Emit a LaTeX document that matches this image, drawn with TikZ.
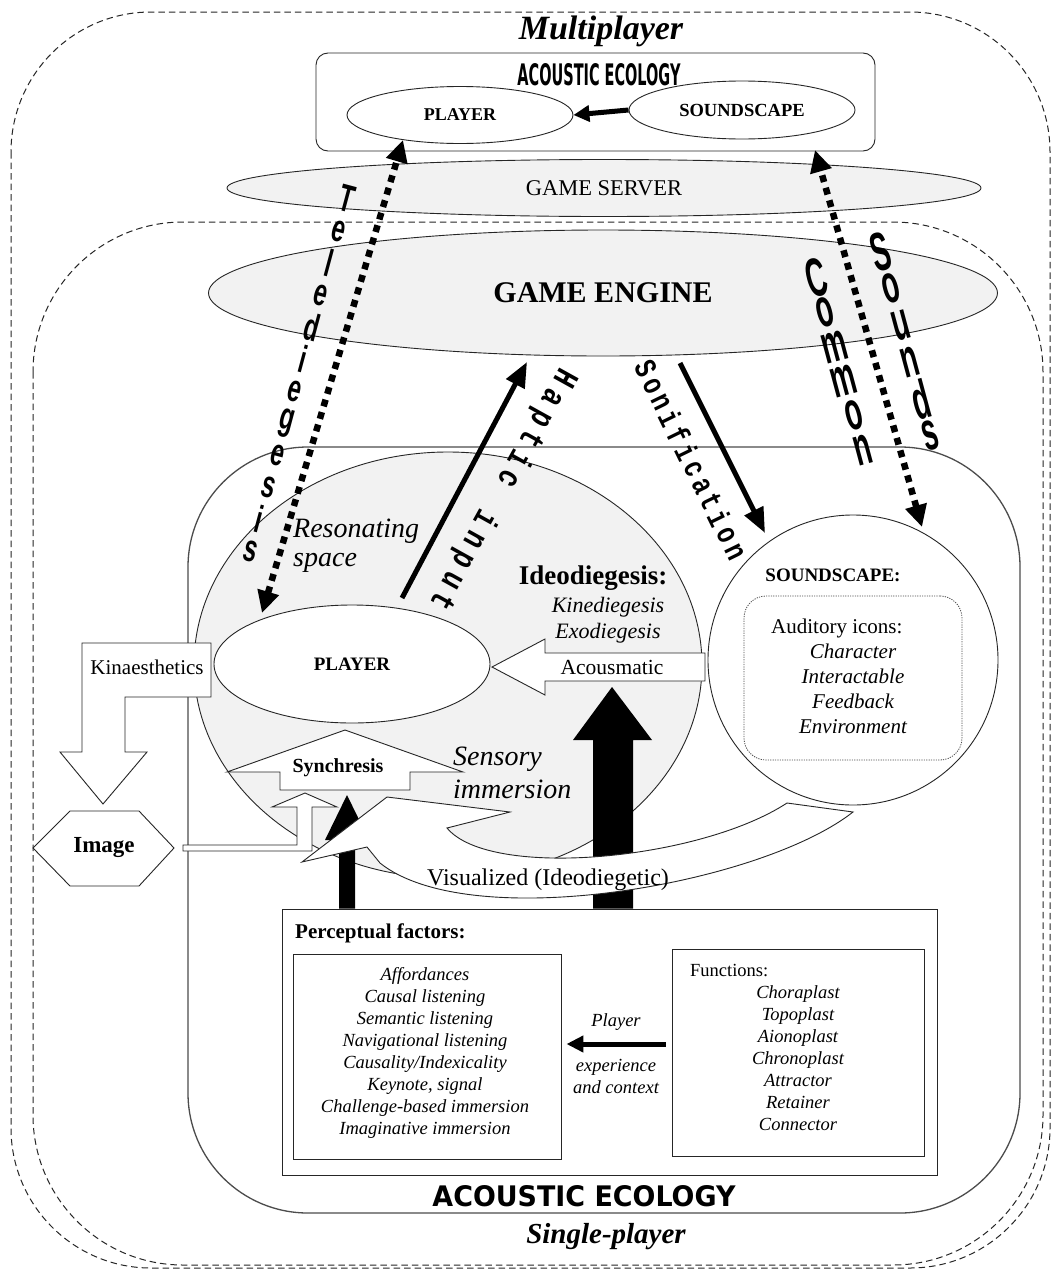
\documentclass[tikz,border=0pt]{standalone}
\usepackage{fontspec}
\usepackage{graphicx}
\setmainfont{Liberation Serif}
\newfontfamily\artfont{Liberation Sans}
\newfontfamily\typefont{Liberation Mono}
\newfontfamily\heavyfont{DejaVu Sans}
\usetikzlibrary{shapes.geometric,arrows.meta,calc}
\newcommand\fsz[2]{\fontsize{#1}{#2}\selectfont}
% letters placed one by one along a line: start, end, intervals, rotation, font, vertical stretch, letters
\newcommand\wordletters[7]{%
  \foreach \ch [count=\k from 0] in {#7}{%
    \node[inner sep=0pt, rotate=#4, font=#5, name=#1l\k] at ($(#1)!{\k/#3}!(#2)$) {\scalebox{1}[#6]{\ch}};}}
\newcommand\typeletters[7]{%
  \foreach \ch [count=\k from 0] in {#7}{%
    \node[inner sep=0pt, rotate=#4, font=#5, name=#1l\k] at ($(#1)!{\k/#3}!(#2)$) {\scalebox{1}[#6]{\vphantom{Hp}\ch}};}}
\begin{document}
\begin{tikzpicture}[x=1pt,y=-1pt,
  frame/.style={draw=black!85, line width=1pt, dash pattern=on 6.5pt off 4pt},
  shell/.style={draw=black!70, line width=1.3pt},
  outline/.style={draw=black!85, line width=0.9pt},
  haze/.style={fill=black!5},
  oval/.style={ellipse, outline, inner sep=0pt},
  blockarrow/.style={outline, fill=white, line join=miter},
  dotlink/.style={line width=6.5pt, dash pattern=on 7pt off 6pt, {Triangle[length=22pt,width=21pt]}-{Triangle[length=22pt,width=21pt]}},
  boldarrow/.style={line width=5pt, -{Triangle[length=25pt,width=20pt]}},
  smallarrow/.style={line width=5pt, -{Triangle[length=16pt,width=16pt]}},
  label/.style={inner sep=0pt},
]
\useasboundingbox (0,0) rectangle (1054,1269);
\fill[white] (0,0) rectangle (1054,1269);

% ---------- nested scopes ----------
\draw[frame, rounded corners=140] (11,12) rectangle (1050,1268);
\draw[frame, rounded corners=150] (33,222) rectangle (1043,1265);
\node[label, font=\bfseries\itshape\fsz{34}{34}] (multi) at (601,31) {Multiplayer};
\node[label, font=\bfseries\itshape\fsz{29}{29}] (single) at (606,1237) {Single-player};

% ---------- multiplayer acoustic ecology ----------
\node[outline, rounded corners=12, minimum width=559, minimum height=98] (mbox) at (595.5,102) {};
\node[label] (mtitle) at (599,75) {\resizebox{163pt}{22pt}{\heavyfont\bfseries ACOUSTIC ECOLOGY}};
\node[oval, minimum width=226, minimum height=57, font=\bfseries\fsz{18}{18}] (mplayer) at (460,115) {PLAYER};
\node[oval, minimum width=226, minimum height=58, font=\bfseries\fsz{18.5}{18}] (msound) at (742,110) {SOUNDSCAPE};
\draw[smallarrow] (msound.west) -- (mplayer.east);

% ---------- server and engine ----------
\node[oval, haze, minimum width=754, minimum height=57, font=\fsz{22.5}{22}] (server) at (604,188) {GAME SERVER};
\node[oval, haze, minimum width=789, minimum height=126, font=\bfseries\fsz{30}{30}] (engine) at (603,293) {GAME ENGINE};

% ---------- single-player acoustic ecology ----------
\node[shell, rounded corners=120, minimum width=832, minimum height=766] (ecology) at (604,830) {};
\node[label] (stitle) at (584,1196) {\resizebox{303pt}{21pt}{\heavyfont\bfseries ACOUSTIC ECOLOGY}};

% resonating space
\node[oval, haze, minimum width=508, minimum height=426] (resonance) at (448,665) {};

% soundscape
\node[circle, outline, fill=white, minimum size=290] (sound) at (853,660) {};
\node[draw=black!70, line width=0.8pt, dash pattern=on 1.2pt off 1.2pt, rounded corners=22, minimum width=218, minimum height=164] (icons) at (853,678) {};
\node[label, font=\bfseries\fsz{19}{19}] (soundlbl) at (833,575) {SOUNDSCAPE:};
\node[label, anchor=west, font=\fsz{21}{25}] (auditory) at (771,628) {Auditory icons:};
\node[label, align=center, font=\itshape\fsz{21}{25}] (iconlist) at (853,689) {Character\\Interactable\\Feedback\\Environment};

% player
\node[oval, fill=white, minimum width=276, minimum height=118, font=\bfseries\fsz{19}{19}] (player) at (352,664) {PLAYER};

% acousmatic arrow
\draw[blockarrow] (705,653) -- (705,681) -- (545,681) -- (545,695) -- (492,667) -- (545,639) -- (545,653) -- cycle;
\node[label, font=\fsz{21.5}{21.5}] (acous) at (612,667) {Acousmatic};

% ideodiegesis
\node[label, font=\bfseries\fsz{27}{27}] (ideo) at (593,578) {Ideodiegesis:};
\node[label, font=\itshape\fsz{22}{22}] (kine) at (608,607) {Kinediegesis};
\node[label, font=\itshape\fsz{22}{22}] (exo) at (608,633) {Exodiegesis};

% texts in the resonating space
\node[label, anchor=base west, font=\itshape\fsz{28}{28}] (reso1) at (293,537) {Resonating};
\node[label, anchor=base west, font=\itshape\fsz{28}{28}] (reso2) at (293,566) {space};
\node[label, anchor=base west, font=\itshape\fsz{28}{28}] (sens1) at (453,765) {Sensory};
\node[label, anchor=base west, font=\itshape\fsz{28}{28}] (sens2) at (453,798) {immersion};

% perceptual factors box
\node[outline, fill=white, minimum width=655, minimum height=266] (percept) at (609.5,1042) {};
\node[label, anchor=west, font=\bfseries\fsz{21}{21}] (perlbl) at (295,933) {Perceptual factors:};
\node[outline, minimum width=268, minimum height=205] (factors) at (427,1056.5) {};
\node[label, align=center, font=\itshape\fsz{18.5}{22}] (factorlist) at (425,1053) {Affordances\\Causal listening\\Semantic listening\\Navigational listening\\Causality/Indexicality\\Keynote, signal\\Challenge-based immersion\\Imaginative immersion};
\node[outline, minimum width=252, minimum height=207] (functions) at (798,1052.5) {};
\node[label, anchor=west, font=\fsz{18.5}{22}] (funclbl) at (690,970) {Functions:};
\node[label, align=center, font=\itshape\fsz{18.5}{22}] (funclist) at (798,1058.5) {Choraplast\\Topoplast\\Aionoplast\\Chronoplast\\Attractor\\Retainer\\Connector};
\node[label, font=\itshape\fsz{18.5}{22}] (pexp1) at (616,1022) {Player};
\node[label, align=center, font=\itshape\fsz{18.5}{22}] (pexp2) at (616,1076) {experience\\and context};
\coordinate (pa0) at (functions.west |- 0,1044);
\coordinate (pa1) at (factors.east |- 0,1044);
\draw[line width=5pt, -{Triangle[length=17pt,width=16pt]}] ($(pa0)+(-6,0)$) -- ($(pa1)+(5,0)$);

% black upward arrows from the perceptual factors
\fill[black] (percept.north -| 593,0) -- (593,740) -- (573,740) -- (612,687) -- (652,740) -- (633,740) -- (percept.north -| 633,0) -- cycle;
\fill[black] (percept.north -| 339,0) -- (339,840) -- (325,840) -- (347,795) -- (369,840) -- (355,840) -- (percept.north -| 355,0) -- cycle;

% synchresis
\draw[blockarrow] (227,772) -- (345,730) -- (463,772) -- (410,772) -- (410,790) -- (280,790) -- (280,772) -- cycle;
\node[label, font=\bfseries\fsz{20}{20}] (synch) at (338,768) {Synchresis};

% image
\draw[blockarrow] (33,848) -- (70,811) -- (139,811) -- (174,848) -- (139,886) -- (70,886) -- cycle;
\node[label, font=\bfseries\fsz{23}{23}] (image) at (104,847) {Image};
\draw[blockarrow] (183,845) -- (297,845) -- (297,807) -- (272,807) -- (305,793) -- (337,807) -- (312,807) -- (312,851) -- (183,851) -- cycle;

% kinaesthetics
\draw[blockarrow] (82,643) -- (211,643) -- (211,697) -- (125,697) -- (125,752) -- (147,752) -- (103,804) -- (60,752) -- (82,752) -- cycle;
\node[label, font=\fsz{21}{21}] (kinaes) at (147,667) {Kinaesthetics};

% visualized (curved arrow from the soundscape)
\draw[blockarrow] (387,797) -- (510,812) -- (447,828) .. controls (490,880) and (700,860) .. (787,803) -- (853,812) .. controls (760,885) and (470,935) .. (380,863) -- (367,847) -- (302,862) -- cycle;
\node[label, font=\fsz{24}{24}] (visual) at (548,880) {Visualized (Ideodiegetic)};

% ---------- connectors ----------
\coordinate (tele0) at (262,613);
\coordinate (tele1) at (403,140);
\draw[dotlink] (tele0) -- (tele1);
\coordinate (common0) at (922,527);
\coordinate (common1) at (815,150);
\draw[dotlink] (common0) -- (common1);
\coordinate (haptic0) at (402,598);
\coordinate (haptic1) at (527,362);
\draw[boldarrow] (haptic0) -- (haptic1);
\coordinate (sonif0) at (680,363);
\coordinate (sonif1) at (765,533);
\draw[boldarrow] (sonif0) -- (sonif1);

% ---------- connector labels ----------
\coordinate (teleA) at (347,199); \coordinate (teleB) at (251,551);
\wordletters{teleA}{teleB}{11}{-15}{\artfont\bfseries\fsz{24}{24}}{1.6}{T,e,l,e,d,i,e,g,e,s,i,s}
\coordinate (comA) at (816,278); \coordinate (comB) at (863,450);
\wordletters{comA}{comB}{5}{15}{\artfont\bfseries\fsz{28}{28}}{1.95}{C,o,m,m,o,n}
\coordinate (souA) at (881,252); \coordinate (souB) at (930,436);
\wordletters{souA}{souB}{5}{15}{\artfont\bfseries\fsz{28}{28}}{1.95}{S,o,u,n,d,s}
\coordinate (hapA) at (563,377); \coordinate (hapB) at (440,600);
\typeletters{hapA}{hapB}{11}{-119}{\typefont\bfseries\fsz{26}{26}}{1.3}{H,a,p,t,i,c,{},i,n,p,u,t}
\coordinate (sonA) at (643,370); \coordinate (sonB) at (733,553);
\typeletters{sonA}{sonB}{11}{-64}{\typefont\bfseries\fsz{24}{24}}{1.3}{S,o,n,i,f,i,c,a,t,i,o,n}
\end{tikzpicture}
\end{document}
